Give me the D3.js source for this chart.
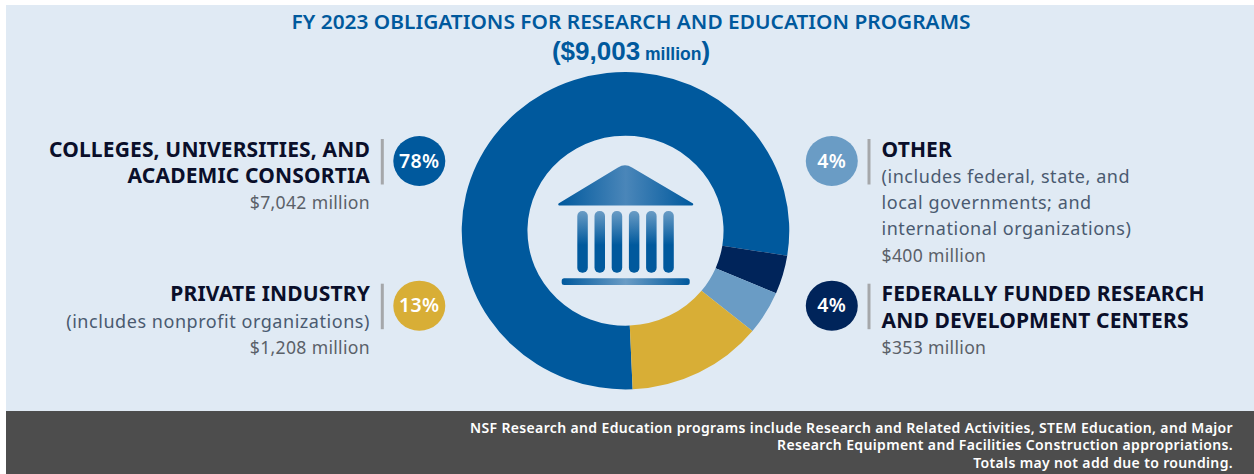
<!DOCTYPE html>
<html>
<head>
<meta charset="utf-8">
<script src="https://d3js.org/d3.v7.min.js"></script>
<style>
  html, body { margin: 0; padding: 0; background: #fff; }
  svg { display: block; }
  text { font-family: "Noto Sans", sans-serif; }
</style>
</head>
<body>
<script>
// chart data
const categories = ["Colleges", "Federally funded", "Other", "Private industry"];
const amounts = [7042, 353, 400, 1208];
const percent_labels = ["78%", "4%", "4%", "13%"];
const title_line = "FY 2023 OBLIGATIONS FOR RESEARCH AND EDUCATION PROGRAMS";
const total_label = "$9,003";
const footer_lines = [
    "NSF Research and Education programs include Research and Related Activities, STEM Education, and Major",
    "Research Equipment and Facilities Construction appropriations.",
    "Totals may not add due to rounding."
];
const label_heads = [
    ["COLLEGES, UNIVERSITIES, AND", "ACADEMIC CONSORTIA"],
    ["FEDERALLY FUNDED RESEARCH", "AND DEVELOPMENT CENTERS"],
    ["OTHER"],
    ["PRIVATE INDUSTRY"]
];
const label_notes = [
    [],
    [],
    ["(includes federal, state, and", "local governments; and", "international organizations)"],
    ["(includes nonprofit organizations)"]
];
const amount_labels = ["$7,042 million", "$353 million", "$400 million", "$1,208 million"];

// look and layout
const width = 1254, height = 474;
const colors = ["#00599d", "#00245a", "#6a9cc5", "#d8ae36"];
const panel_color = "#e0eaf4";
const footer_color = "#4d4d4d";
const head_color = "#0a0f2a";
const note_color = "#4a5a70";
const amount_color = "#5a6068";
const title_color = "#00599d";
const center_x = 625.5, center_y = 230.7;
const outer_r = 158.7, inner_r = 95;
const stretch_x = 1.032; // the whole picture is a bit wider than tall
const start_deg = 177.5;
const line_height = 26.3;
// one block per category: side, first baseline, badge center
const block_side = ["left", "right", "right", "left"];
const block_top = [156.5, 301.2, 156.5, 301.2];
const left_edge = 370, right_edge = 881.5;
const badge_x = {left: 419.3, right: 831.8};
const rule_x = {left: 382.3, right: 869};
const head_size = 21, note_size = 18, amount_size = 17.6;

const svg = d3.select("body").append("svg")
    .attr("width", width)
    .attr("height", height);

svg.append("rect")
    .attr("x", 6).attr("y", 5)
    .attr("width", width - 6).attr("height", 406)
    .attr("fill", panel_color);
svg.append("rect")
    .attr("x", 6).attr("y", 411)
    .attr("width", width - 6).attr("height", height - 411)
    .attr("fill", footer_color);

const defs = svg.append("defs");
function addGradient(id, x2, y2, stops) {
    const g = defs.append("linearGradient").attr("id", id)
        .attr("x1", 0).attr("y1", 0).attr("x2", x2).attr("y2", y2);
    stops.forEach(s => g.append("stop").attr("offset", s[0]).attr("stop-color", s[1]));
}
addGradient("roof_grad", 1, 0, [[0, "#00599d"], [0.5, "#4a86b9"], [1, "#00599d"]]);
addGradient("base_grad", 1, 0, [[0, "#00599d"], [0.5, "#6a9cc5"], [1, "#00599d"]]);
addGradient("col_grad", 0, 1, [[0, "#6a9cc5"], [0.55, "#00599d"], [1, "#00599d"]]);

// title
svg.append("text")
    .attr("x", 631).attr("y", 29.3)
    .attr("text-anchor", "middle")
    .attr("font-size", 19).attr("font-weight", 600)
    .attr("fill", title_color)
    .attr("textLength", 679).attr("lengthAdjust", "spacingAndGlyphs")
    .text(title_line);
// Liberation has a shorter line box, keeps this line clear of the title
const sub = svg.append("text")
    .attr("x", 631).attr("y", 59.6)
    .attr("text-anchor", "middle")
    .attr("font-weight", 700)
    .style("font-family", '"Liberation Sans", sans-serif')
    .attr("fill", title_color);
sub.append("tspan").attr("font-size", 26).text("(" + total_label);
sub.append("tspan").attr("font-size", 17.5).text(" million");
sub.append("tspan").attr("font-size", 26).text(")");

// donut
const pie = d3.pie()
    .sort(null)
    .startAngle(start_deg * Math.PI / 180)
    .endAngle((start_deg + 360) * Math.PI / 180);
const arc = d3.arc().innerRadius(inner_r).outerRadius(outer_r);

const donut = svg.append("g")
    .attr("transform", `translate(${center_x},${center_y}) scale(${stretch_x},1)`);
donut.selectAll("path")
    .data(pie(amounts))
    .join("path")
    .attr("d", arc)
    .attr("fill", (d, i) => colors[i]);

// building icon
const icon = svg.append("g");
icon.append("path")
    .attr("d", "M558.5,203.5 L618,167.5 Q625,163 632,167.5 L693,203.5 Q694,205.5 691,205.5 L560,205.5 Q557.5,205.5 558.5,203.5 Z")
    .attr("fill", "url(#roof_grad)");
icon.selectAll(".col")
    .data(d3.range(6))
    .join("rect")
    .attr("class", "col")
    .attr("x", i => 577.3 + i * 17.2)
    .attr("y", 211)
    .attr("width", 10.5).attr("height", 61.7)
    .attr("rx", 5)
    .attr("fill", "url(#col_grad)");
icon.append("rect")
    .attr("x", 561.7).attr("y", 278.3)
    .attr("width", 128).attr("height", 6.7)
    .attr("rx", 2.5)
    .attr("fill", "url(#base_grad)");

// label blocks
categories.forEach((name, i) => {
    const side = block_side[i];
    const anchor = side === "left" ? "end" : "start";
    const tx = side === "left" ? left_edge : right_edge;
    const top = block_top[i];
    const block = svg.append("g").attr("class", "block");

    block.append("rect")
        .attr("x", rule_x[side] - 1.5).attr("y", top - 17.5)
        .attr("width", 3).attr("height", 45.5)
        .attr("fill", "#a5a7aa");
    block.append("ellipse")
        .attr("cx", badge_x[side]).attr("cy", top + 4.5)
        .attr("rx", 26).attr("ry", 25)
        .attr("fill", colors[i]);
    block.append("text")
        .attr("x", badge_x[side]).attr("y", top + 11.2)
        .attr("text-anchor", "middle")
        .attr("font-size", 19.5).attr("font-weight", 600)
        .attr("letter-spacing", 0.4)
        .attr("fill", "#fff")
        .text(percent_labels[i]);

    let y = top;
    label_heads[i].forEach(line => {
        block.append("text")
            .attr("x", tx).attr("y", y)
            .attr("text-anchor", anchor)
            .attr("font-size", head_size).attr("font-weight", 700)
            .attr("letter-spacing", 0.15)
            .attr("fill", head_color)
            .text(line);
        y += line_height;
    });
    label_notes[i].forEach(line => {
        block.append("text")
            .attr("x", tx).attr("y", y)
            .attr("text-anchor", anchor)
            .attr("font-size", note_size)
            .attr("letter-spacing", 0.55)
            .attr("fill", note_color)
            .text(line);
        y += line_height;
    });
    block.append("text")
        .attr("x", tx).attr("y", y)
        .attr("text-anchor", anchor)
        .attr("font-size", amount_size)
        .attr("letter-spacing", 0.32)
        .attr("fill", amount_color)
        .text(amount_labels[i]);
});

// footer
footer_lines.forEach((line, i) => {
    svg.append("text")
        .attr("x", 1233).attr("y", 433 + i * 17.4)
        .attr("text-anchor", "end")
        .attr("font-size", 14).attr("font-weight", 600)
        .attr("letter-spacing", 0.36)
        .attr("fill", "#fff")
        .text(line);
});
</script>
</body>
</html>
